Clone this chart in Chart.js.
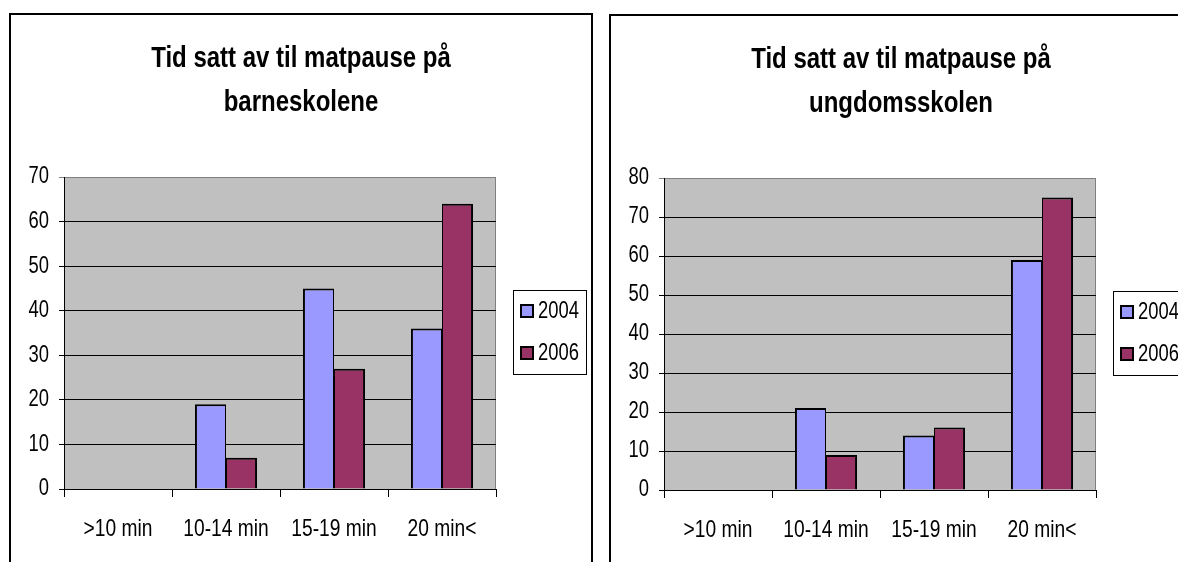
<!DOCTYPE html>
<html>
<head>
<meta charset="utf-8">
<script src="https://cdn.jsdelivr.net/npm/chart.js@4.4.1/dist/chart.umd.min.js"></script>
<style>
  html, body { margin: 0; padding: 0; background: #fff; }
  body { width: 1178px; height: 562px; overflow: hidden; position: relative; }
  .box { position: absolute; width: 580px; height: 616px; border: 2px solid #000; background: #fff; }
  .box canvas { display: block; }
</style>
</head>
<body>
<div class="box" style="left:9px; top:13px;"><canvas id="barneskole" width="580" height="616"></canvas></div>
<div class="box" style="left:609px; top:14px;"><canvas id="ungdomsskole" width="580" height="616"></canvas></div>
<script>
// kategorier og verdier
const categories = ['>10 min', '10-14 min', '15-19 min', '20 min<'];
const seriesNames = ['2004', '2006'];
const seriesColors = ['#9999FF', '#993366'];

const barne2004 = [0, 19, 45, 36];
const barne2006 = [0, 7, 27, 64];
const ungdom2004 = [0, 21, 14, 59];
const ungdom2006 = [0, 9, 16, 75];

const barneTitle = ['Tid satt av til matpause på', 'barneskolene'];
const ungdomTitle = ['Tid satt av til matpause på', 'ungdomsskolen'];

const FONT = "'Liberation Sans', Arial, sans-serif";
Chart.defaults.font.family = FONT;
Chart.defaults.color = '#000';

// originalen har smal (sammentrykt) skrift - trykk sammen teksten rundt ankerpunktet
const TEXT_SQUEEZE = 0.8;
const origFillText = CanvasRenderingContext2D.prototype.fillText;
CanvasRenderingContext2D.prototype.fillText = function (text, x, y) {
    this.save();
    this.translate(x, y);
    this.scale(TEXT_SQUEEZE, 1);
    origFillText.call(this, text, 0, 0);
    this.restore();
};

// grå plotflate + ramme
const plotBackground = {
    id: 'plotBackground',
    beforeDraw(chart) {
        const { ctx, chartArea: a } = chart;
        ctx.save();
        ctx.fillStyle = '#C0C0C0';
        ctx.fillRect(a.left, a.top, a.right - a.left, a.bottom - a.top);
        ctx.strokeStyle = '#808080';
        ctx.lineWidth = 1;
        ctx.strokeRect(a.left + 0.5, a.top + 0.5, a.right - a.left - 1, a.bottom - a.top);
        ctx.restore();
    }
};

// forklaring med ramme til høyre
const boxLegend = {
    id: 'boxLegend',
    afterDraw(chart) {
        const ctx = chart.ctx;
        const x = 502, y = 275, w = 73, h = 84;
        ctx.save();
        ctx.strokeStyle = '#000';
        ctx.lineWidth = 1;
        ctx.strokeRect(x + 0.5, y + 0.5, w, h);
        ctx.font = '23px ' + FONT;
        ctx.textBaseline = 'middle';
        chart.data.datasets.forEach((ds, i) => {
            const cy = y + 21 + i * 42;
            ctx.fillStyle = ds.backgroundColor;
            ctx.fillRect(x + 8, cy - 6, 12, 12);
            ctx.lineWidth = 2;
            ctx.strokeRect(x + 8, cy - 6, 12, 12);
            ctx.fillStyle = '#000';
            ctx.fillText(ds.label, x + 25, cy + 1);
        });
        ctx.restore();
    }
};

function makeChart(id, title, data2004, data2006, yMax) {
    return new Chart(document.getElementById(id), {
        type: 'bar',
        data: {
            labels: categories,
            datasets: [
                {
                    label: seriesNames[0],
                    data: data2004,
                    backgroundColor: seriesColors[0],
                    borderColor: '#000',
                    borderWidth: { top: 2, left: 2, right: 1, bottom: 0 },
                    borderSkipped: 'bottom'
                },
                {
                    label: seriesNames[1],
                    data: data2006,
                    backgroundColor: seriesColors[1],
                    borderColor: '#000',
                    borderWidth: { top: 2, left: 1, right: 2, bottom: 0 },
                    borderSkipped: 'bottom'
                }
            ]
        },
        options: {
            responsive: false,
            animation: false,
            events: [],
            datasets: {
                bar: { barPercentage: 1, categoryPercentage: 0.575 }
            },
            layout: {
                padding: { left: 0, right: 0, top: 0, bottom: 82 }
            },
            plugins: {
                legend: { display: false },
                tooltip: { enabled: false },
                title: {
                    display: true,
                    text: title,
                    color: '#000',
                    font: { size: 30, weight: 'bold', lineHeight: 1.467 },
                    padding: { top: 22, bottom: 52 }
                }
            },
            scales: {
                x: {
                    afterFit(scale) { scale.height = 60; },
                    grid: {
                        offset: true,
                        drawOnChartArea: false,
                        drawTicks: true,
                        tickLength: 8,
                        color: '#000'
                    },
                    border: { color: '#000', width: 1 },
                    ticks: {
                        font: { size: 24 },
                        padding: 18,
                        maxRotation: 0,
                        autoSkip: false
                    }
                },
                y: {
                    min: 0,
                    max: yMax,
                    afterFit(scale) { scale.width = 53; },
                    grid: {
                        color: ctx => (ctx.tick && ctx.tick.value === yMax) ? '#808080' : '#000',
                        tickLength: 5
                    },
                    border: { color: '#000', width: 1 },
                    ticks: {
                        stepSize: 10,
                        font: { size: 23 },
                        padding: 10
                    }
                },
                // tom plass til forklaringen til høyre
                spacer: {
                    type: 'linear',
                    position: 'right',
                    afterFit(scale) { scale.width = 95; },
                    grid: { display: false },
                    border: { display: false },
                    ticks: { display: false }
                }
            }
        },
        plugins: [plotBackground, boxLegend]
    });
}

makeChart('barneskole', barneTitle, barne2004, barne2006, 70);
makeChart('ungdomsskole', ungdomTitle, ungdom2004, ungdom2006, 80);
</script>
</body>
</html>
